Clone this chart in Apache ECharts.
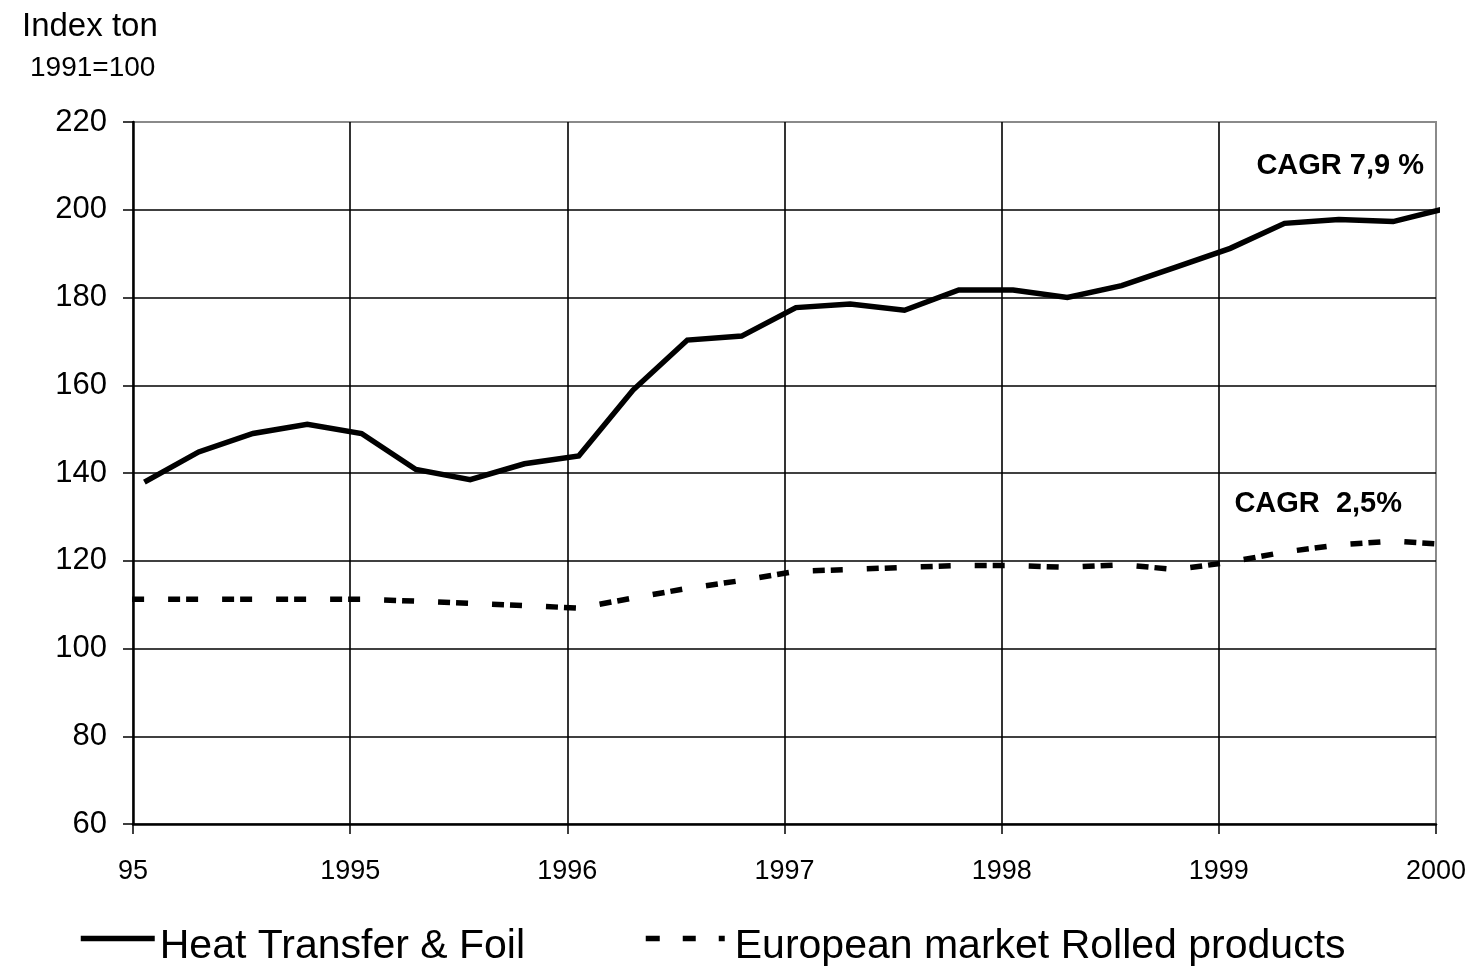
<!DOCTYPE html>
<html>
<head>
<meta charset="utf-8">
<script src="https://cdn.jsdelivr.net/npm/echarts@6/dist/echarts.min.js"></script>
<style>
  html, body { margin: 0; padding: 0; background: #ffffff; }
  #chart { width: 1473px; height: 972px; }
</style>
</head>
<body>
<div id="chart"></div>
<script>
// ---- data (quarterly index values, 1991 = 100) ----
const tickLabels = ['95', '1995', '1996', '1997', '1998', '1999', '2000'];
const seriesNames = ['Heat Transfer & Foil', 'European market Rolled products'];
// quarter index 0..24
const heatTransfer = [137.9, 144.8, 149.0, 151.1, 149.0, 140.8, 138.5, 142.1, 143.9,
  158.9, 170.3, 171.2, 177.7, 178.5, 177.1, 181.7, 181.7, 180.0, 182.7, 186.9,
  191.2, 196.9, 197.8, 197.3, 200.4];
// quarter index -1..24 (the dashed line enters the plot from the left edge)
const europeanStartIndex = -1;
const european = [111.2, 111.2, 111.2, 111.2, 111.2, 111.2, 110.8, 110.3, 109.8, 109.2,
  111.5, 113.7, 115.5, 117.6, 118.0, 118.5, 118.9, 118.9, 118.5, 119.1,
  118.0, 119.7, 122.0, 123.6, 124.5, 123.7];
const cagrLabels = ['CAGR 7,9 %', 'CAGR  2,5%'];
const axisTitle = ['Index ton', '1991=100'];

// ---- build ----
const FONT = '"Liberation Sans", Arial, Helvetica, sans-serif';
const phase = 0.21; // points sit slightly after the quarter tick
const quartersPerYear = 4;
const heatData = heatTransfer.map((v, i) => [i + phase, v]);
const euroData = european.map((v, i) => [i + europeanStartIndex + phase, v]);

const chart = echarts.init(document.getElementById('chart'), null, { renderer: 'canvas' });

const hiddenSymbol = { color: 'rgba(0,0,0,0)', borderColor: 'rgba(0,0,0,0)', borderWidth: 0, opacity: 0 };
const legendText = {
  fontSize: 41, color: '#000', fontFamily: FONT,
  rich: { t: { fontSize: 41, color: '#000', fontFamily: FONT, padding: [17, 0, 0, 0] } }
};

const option = {
  backgroundColor: '#ffffff',
  animation: false,
  grid: {
    left: 133, right: 37, top: 122, bottom: 148,
    show: true, borderColor: '#8a8a8a', borderWidth: 2, backgroundColor: 'transparent'
  },
  xAxis: {
    type: 'value',
    min: 0, max: (tickLabels.length - 1) * quartersPerYear, interval: quartersPerYear,
    axisLine: { show: true, onZero: false, lineStyle: { color: '#000', width: 2.5 } },
    axisTick: { show: true, inside: false, length: 10, lineStyle: { color: '#000', width: 1.5 } },
    axisLabel: {
      margin: 34, fontSize: 27, color: '#000', fontFamily: FONT,
      formatter: v => tickLabels[Math.round(v / quartersPerYear)] || ''
    },
    splitLine: { show: true, showMinLine: false, showMaxLine: false, lineStyle: { color: '#000', width: 1.6 } }
  },
  yAxis: {
    type: 'value',
    min: 60, max: 220, interval: 20,
    axisLine: { show: true, onZero: false, lineStyle: { color: '#000', width: 2.5 } },
    axisTick: { show: true, inside: false, length: 10, lineStyle: { color: '#000', width: 1.5 } },
    axisLabel: { margin: 26, fontSize: 31, color: '#000', fontFamily: FONT },
    splitLine: { show: true, showMinLine: false, showMaxLine: false, lineStyle: { color: '#000', width: 1.6 } }
  },
  legend: [
    {
      left: 78, top: 924, padding: 0,
      itemWidth: 74, itemHeight: 36,
      formatter: '{t|{name}}',
      textStyle: legendText,
      data: [{ name: seriesNames[0], itemStyle: hiddenSymbol, lineStyle: { width: 5.5, type: 'solid', cap: 'butt' } }]
    },
    {
      left: 643, top: 924, padding: 0,
      itemWidth: 84, itemHeight: 36,
      formatter: '{t|{name}}',
      textStyle: legendText,
      data: [{ name: seriesNames[1], itemStyle: hiddenSymbol, lineStyle: { width: 5.5, type: [14, 23, 13, 23, 6, 40], dashOffset: 0, cap: 'butt' } }]
    }
  ],
  series: [
    {
      name: seriesNames[0],
      type: 'line',
      data: heatData,
      symbol: 'none',
      clip: false,
      lineStyle: { color: '#000', width: 5.5, type: 'solid', join: 'miter' },
      itemStyle: { color: '#000' },
      z: 3
    },
    {
      name: seriesNames[1],
      type: 'line',
      data: euroData,
      symbol: 'none',
      clip: true,
      lineStyle: { color: '#000', width: 5.5, type: [12, 6, 12, 24], dashOffset: 30, cap: 'butt' },
      itemStyle: { color: '#000' },
      z: 3
    }
  ],
  graphic: [
    { type: 'text', style: { text: axisTitle[0], x: 22, y: 27, fill: '#000', font: '33px ' + FONT, align: 'left', verticalAlign: 'middle' } },
    { type: 'text', style: { text: axisTitle[1], x: 30, y: 68, fill: '#000', font: '28px ' + FONT, align: 'left', verticalAlign: 'middle' } },
    { type: 'text', style: { text: cagrLabels[0], x: 1424, y: 166, fill: '#000', font: 'bold 29px ' + FONT, align: 'right', verticalAlign: 'middle' } },
    { type: 'text', style: { text: cagrLabels[1], x: 1402, y: 504, fill: '#000', font: 'bold 29px ' + FONT, align: 'right', verticalAlign: 'middle' } }
  ]
};

chart.setOption(option);
</script>
</body>
</html>
